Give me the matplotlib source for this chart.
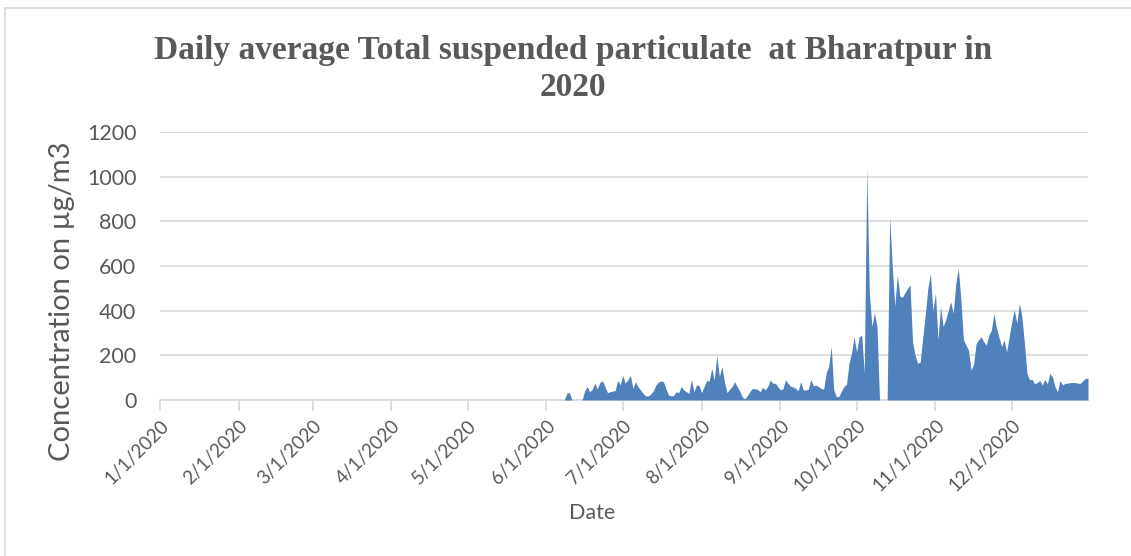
import numpy as np
import pandas as pd
import matplotlib
matplotlib.use("Agg")
import matplotlib.pyplot as plt
import matplotlib.dates as mdates
from matplotlib.lines import Line2D

# daily TSP values (ug/m3), 8 June .. 31 December 2020; earlier days have no data
jun = [0, 30, 35, 0, 0, 0, 0, 0, 40, 60, 37, 48, 75, 50, 78, 87, 60, 33, 37, 40, 42, 88, 68]
jul = [110, 75, 90, 110, 52, 82, 60, 45, 30, 18, 18, 27, 40, 67, 80, 85, 82, 50, 22, 18,
       20, 37, 33, 60, 45, 37, 30, 92, 37, 67, 65]
aug = [33, 60, 87, 85, 142, 90, 200, 105, 150, 82, 33, 48, 60, 82, 60, 40, 15, 5, 20, 37,
       52, 50, 48, 37, 57, 45, 60, 90, 75, 75, 60]
sep = [45, 50, 90, 75, 62, 58, 52, 42, 82, 45, 45, 48, 92, 63, 67, 60, 52, 48, 120, 150,
       240, 45, 15, 15, 40, 60, 70, 165, 210, 283]
oct_ = [215, 283, 290, 120, 1040, 480, 330, 390, 330, 0, 0, 0, 0, 820, 600, 420, 560, 465,
        460, 480, 500, 515, 260, 200, 164, 170, 280, 380, 500, 567, 400]
nov = [478, 270, 418, 330, 358, 400, 440, 388, 522, 590, 450, 270, 246, 224, 134, 160, 254,
       270, 283, 260, 246, 291, 313, 388, 321, 280, 240, 269, 216, 284]
dec = [351, 403, 343, 433, 373, 254, 119, 90, 93, 72, 78, 87, 67, 93, 72, 119, 104, 60, 37,
       87, 67, 75, 75, 78, 78, 78, 75, 75, 87, 97, 97]

start_date = "2020-06-08"
tick_dates = pd.date_range("2020-01-01", "2020-12-01", freq="MS")
tick_labels = [f"{d.month}/1/2020" for d in tick_dates]
y_ticks = [0, 200, 400, 600, 800, 1000, 1200]

values = jun + jul + aug + sep + oct_ + nov + dec
dates = pd.date_range(start_date, periods=len(values), freq="D")
# days without data (1 Jan - 7 Jun) sit at zero on the area chart
all_dates = pd.date_range("2020-01-01", "2020-12-31", freq="D")
series = pd.Series(values, index=dates).reindex(all_dates, fill_value=0)

grey = "#595959"
fig = plt.figure(figsize=(11.31, 5.56), dpi=100)
ax = fig.add_axes([160 / 1131, 1 - 400 / 556, 928 / 1131, 268 / 556])

ax.fill_between(series.index, 0, series.values, color="#4F81BD", linewidth=0, zorder=3)

ax.set_xlim(all_dates[0], all_dates[-1])
ax.set_ylim(0, 1200)
ax.set_yticks(y_ticks)
ax.set_yticklabels([str(v) for v in y_ticks], fontsize=15.5, color=grey, family="Lato")
ax.tick_params(axis="y", length=0, pad=17)
ax.set_xticks(tick_dates)
ax.set_xticklabels(tick_labels, rotation=45, ha="right", rotation_mode="anchor",
                   fontsize=13.5, color=grey, family="Lato")
ax.tick_params(axis="x", length=8, width=1.2, color="#d9d9d9", pad=4)

ax.grid(axis="y", color="#d9d9d9", linewidth=1.2, zorder=0)
for s in ["top", "right", "left"]:
    ax.spines[s].set_visible(False)
ax.spines["bottom"].set_color("#d9d9d9")
ax.spines["bottom"].set_linewidth(1.2)
ax.set_axisbelow(True)

fig.text(573 / 1131, 1 - 50 / 556, "Daily average Total suspended particulate  at Bharatpur in",
         ha="center", va="center", fontsize=24, fontweight="bold", color=grey,
         family="Liberation Serif")
fig.text(573 / 1131, 1 - 88 / 556, "2020", ha="center", va="center", fontsize=24,
         fontweight="bold", color=grey, family="Liberation Serif")
fig.text(62 / 1131, 1 - 301 / 556, "Concentration on µg/m3", rotation=90, ha="center",
         va="center", fontsize=21, color=grey, family="Lato")
fig.text(592 / 1131, 1 - 513 / 556, "Date", ha="center", va="center", fontsize=15.5,
         color=grey, family="Lato")

# chart-area frame
fig.add_artist(Line2D([5 / 1131, 5 / 1131], [0, 1 - 8 / 556], transform=fig.transFigure,
                      color="#d9d9d9", linewidth=1.2))
fig.add_artist(Line2D([5 / 1131, 1], [1 - 8 / 556, 1 - 8 / 556], transform=fig.transFigure,
                      color="#d9d9d9", linewidth=1.2))

fig.savefig("out.png", dpi=100)
